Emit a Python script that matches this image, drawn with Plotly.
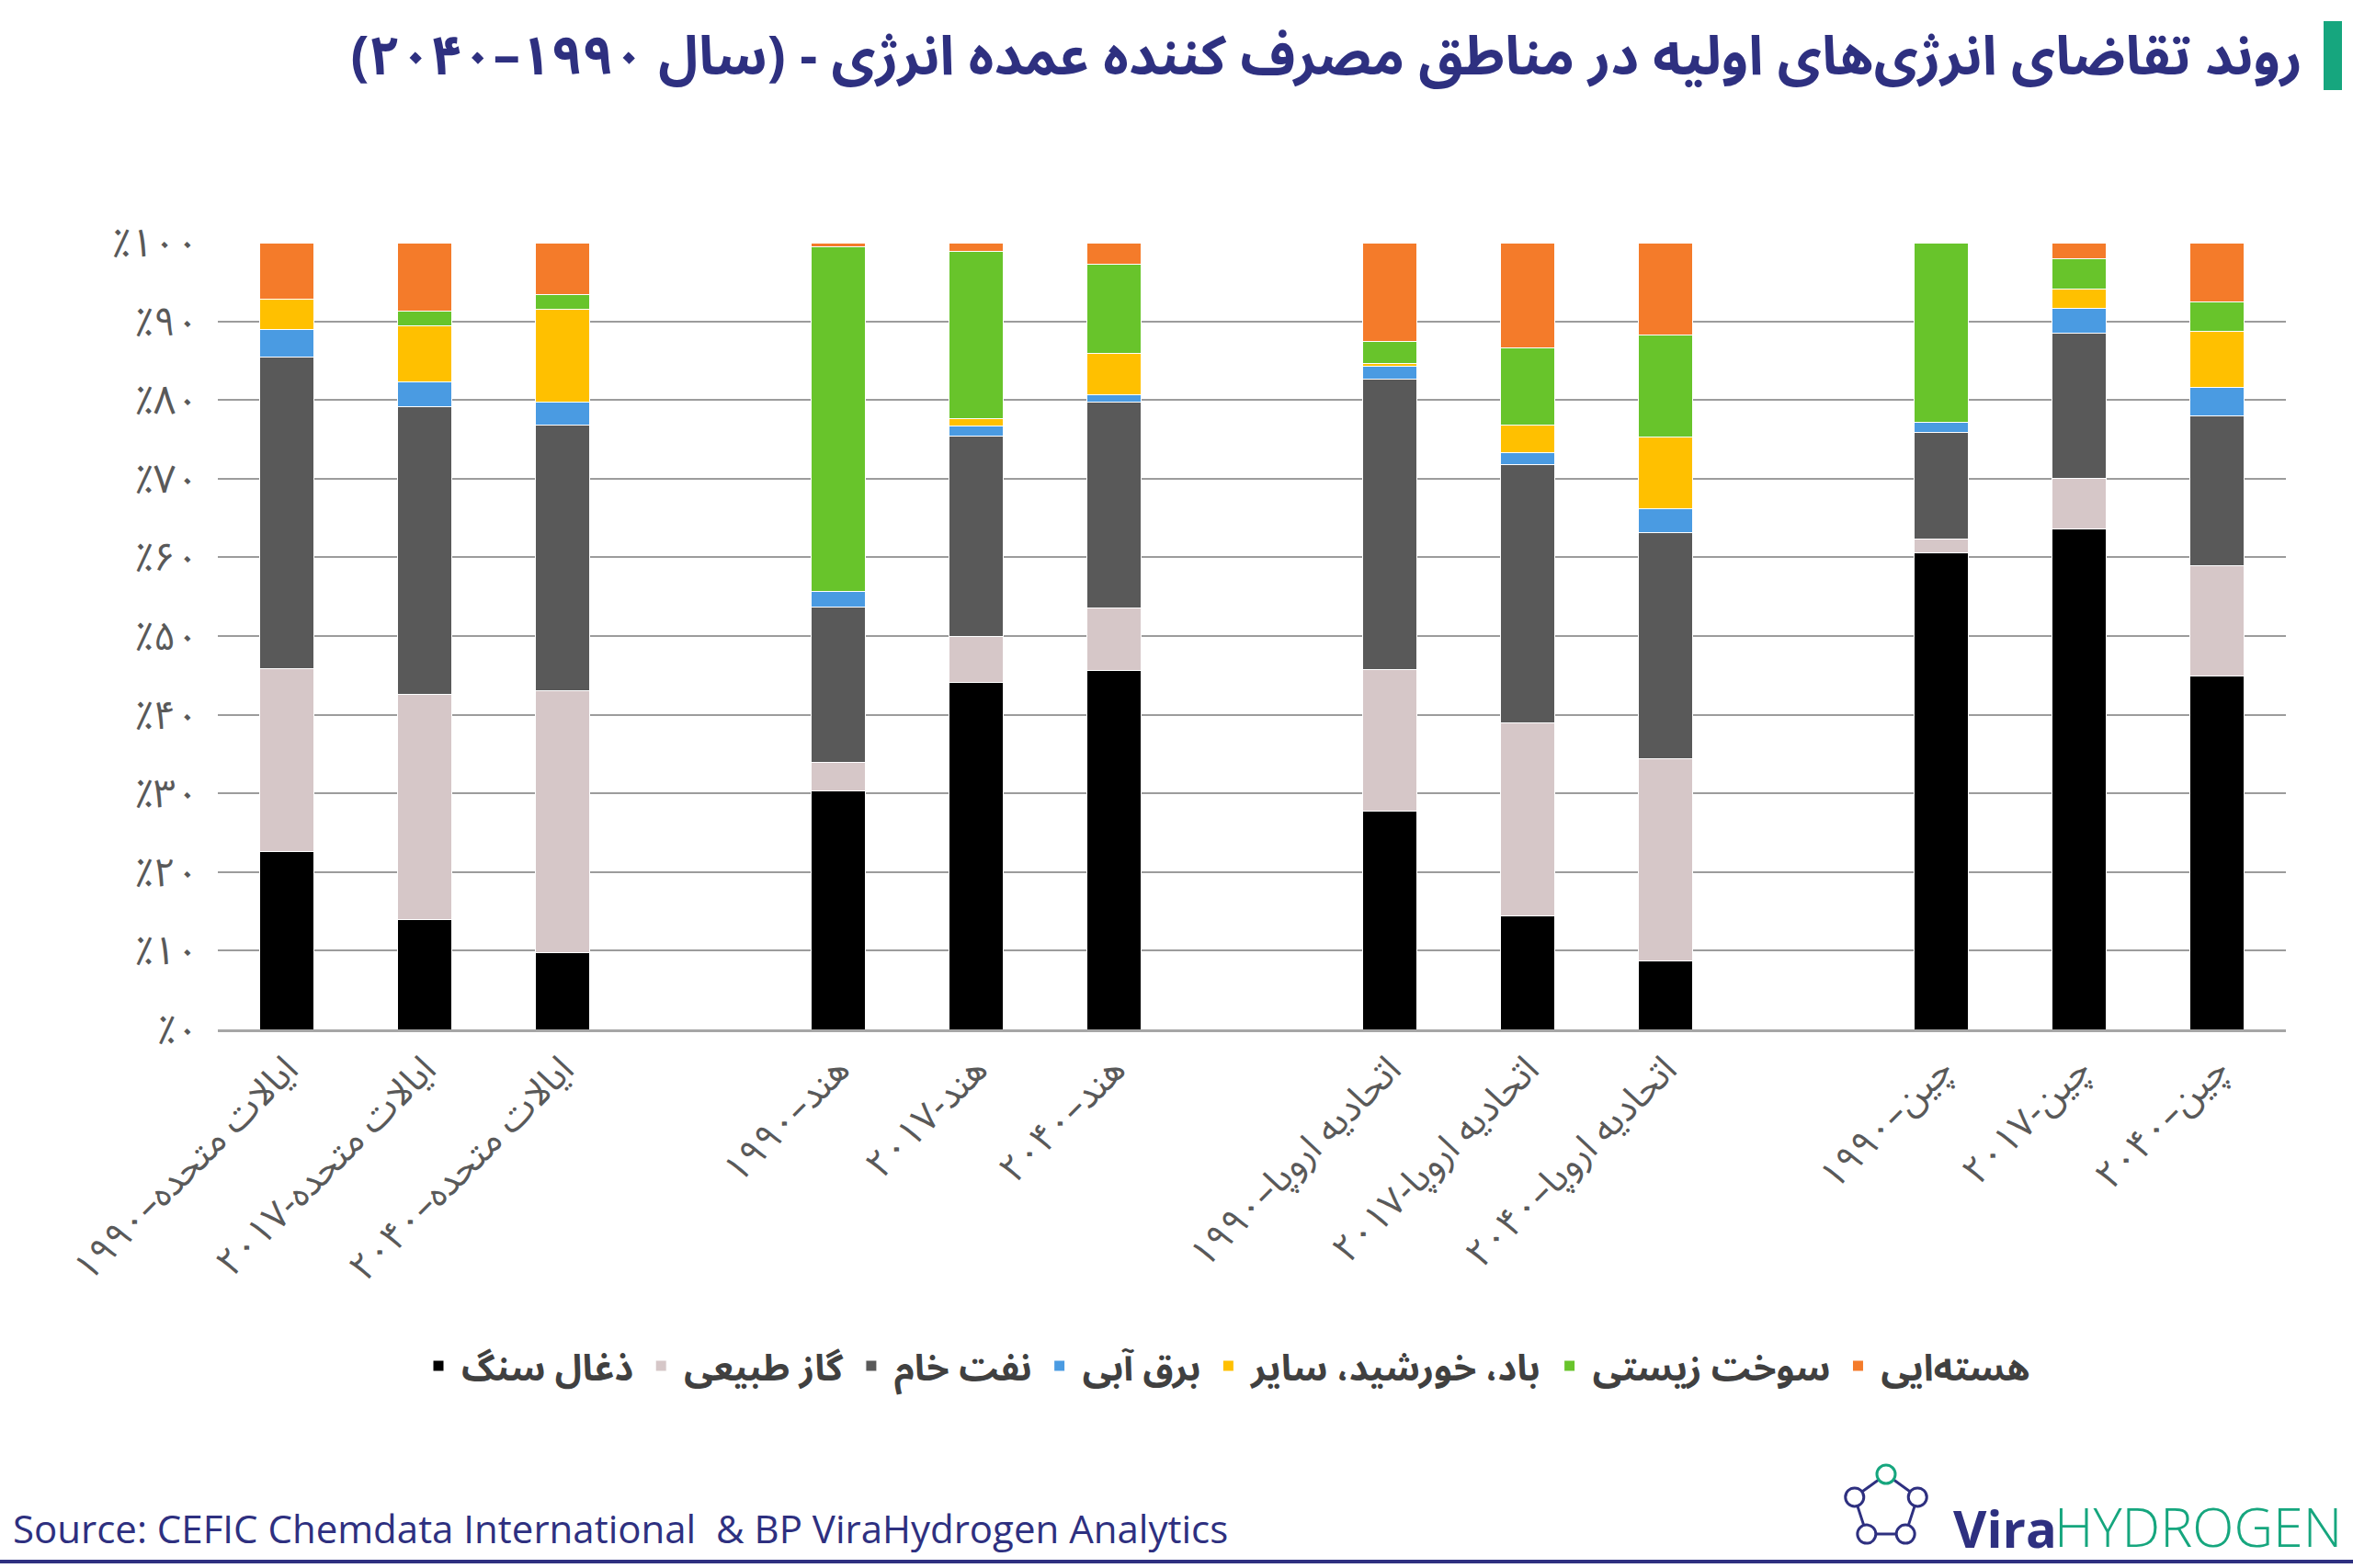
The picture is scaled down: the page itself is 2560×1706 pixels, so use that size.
import math
import plotly.graph_objects as go

# ---------------- data ----------------
labels = [
    "ایالات متحده–۱۹۹۰", "ایالات متحده-۲۰۱۷", "ایالات متحده–۲۰۴۰",
    "هند–۱۹۹۰", "هند-۲۰۱۷", "هند–۲۰۴۰",
    "اتحادیه اروپا–۱۹۹۰", "اتحادیه اروپا-۲۰۱۷", "اتحادیه اروپا–۲۰۴۰",
    "چین–۱۹۹۰", "چین-۲۰۱۷", "چین–۲۰۴۰",
]
coal    = [22.6, 14.0,  9.8, 30.3, 44.1, 45.6, 27.7, 14.4,  8.7, 60.6, 63.6, 44.9]
gas     = [23.3, 28.6, 33.2,  3.6,  5.9,  8.0, 18.0, 24.6, 25.7,  1.7,  6.4, 14.0]
oil     = [39.5, 36.6, 33.8, 19.8, 25.4, 26.1, 36.9, 32.8, 28.7, 13.6, 18.5, 19.1]
hydro   = [ 3.6,  3.1,  2.9,  2.0,  1.3,  1.0,  1.7,  1.5,  3.1,  1.3,  3.2,  3.6]
wind    = [ 3.8,  7.1, 11.8,  0.0,  0.9,  5.2,  0.3,  3.5,  9.1,  0.0,  2.4,  7.1]
bio     = [ 0.0,  1.9,  1.9, 43.8, 21.3, 11.3,  2.8,  9.8, 13.0, 22.8,  3.8,  3.8]
nuclear = [ 7.2,  8.7,  6.6,  0.5,  1.1,  2.8, 12.6, 13.4, 11.7,  0.0,  2.1,  7.5]

series_names = ["ذغال سنگ", "گاز طبیعی", "نفت خام", "برق آبی",
                "باد، خورشید، سایر", "سوخت زیستی", "هسته‌ایی"]
series_values = [coal, gas, oil, hydro, wind, bio, nuclear]
series_colors = ["#000000", "#D6C7C8", "#595959", "#4A9BE2",
                 "#FFC000", "#68C42B", "#F47B2A"]

ytick_vals = [0, 10, 20, 30, 40, 50, 60, 70, 80, 90, 100]
ytick_text = ["٪۰", "٪۱۰", "٪۲۰", "٪۳۰", "٪۴۰", "٪۵۰",
              "٪۶۰", "٪۷۰", "٪۸۰", "٪۹۰", "٪۱۰۰"]

title_text = "روند تقاضای انرژی‌های اولیه در مناطق مصرف کننده عمده انرژی - (سال ۱۹۹۰–۲۰۴۰)"
source_text = "Source: CEFIC Chemdata International  & BP ViraHydrogen Analytics"

# ---------------- layout geometry ----------------
W, H = 2560, 1706
L, R, T, B = 237, 2487, 264, 1120
FA = "Noto Sans Arabic, DejaVu Sans, sans-serif"
NAVY = "#2E3080"
TEAL = "#16A67E"


def px(x):
    return (x - L) / (R - L)


def py(y):
    return (B - y) / (B - T)


# each region group of 3 bars, with one empty slot between groups
positions = [4 * (i // 3) + i % 3 for i in range(len(labels))]

fig = go.Figure()
for name, vals, col in zip(series_names, series_values, series_colors):
    fig.add_trace(go.Bar(
        x=positions, y=vals, name=name, width=0.39,
        marker=dict(color=col, line=dict(color="white", width=1)),
    ))

fig.update_layout(
    width=W, height=H,
    margin=dict(l=L, r=W - R, t=T, b=H - B, pad=0),
    barmode="stack",
    plot_bgcolor="white", paper_bgcolor="white",
    font=dict(family=FA, color="#595959", size=30),
    title=dict(text=title_text, xref="container", yref="container",
               x=2505 / W, xanchor="right", y=1 - 60 / H, yanchor="middle",
               font=dict(family=FA, size=59, color=NAVY, weight="bold")),
    legend=dict(orientation="h", x=px(1333), xanchor="center",
                y=py(1486), yanchor="middle", traceorder="normal",
                font=dict(family=FA, size=40, color="#404040", weight="bold"),
                itemwidth=40, bgcolor="rgba(0,0,0,0)"),
    xaxis=dict(range=[-0.5, 14.5], tickmode="array", tickvals=positions,
               ticktext=labels, tickangle=-45, showgrid=False, zeroline=False,
               showline=True, linecolor="#A6A6A6", linewidth=3, ticks="",
               tickfont=dict(family=FA, size=41, color="#595959")),
    yaxis=dict(range=[0, 100], tickmode="array", tickvals=ytick_vals,
               ticktext=ytick_text, showgrid=True, gridcolor="#9C9C9C",
               gridwidth=2, zeroline=False, ticks="", ticklabelstandoff=20,
               tickfont=dict(family=FA, size=43, color="#595959")),
)

shapes = []
# green accent bar next to the title
shapes.append(dict(type="rect", xref="paper", yref="paper",
                   x0=px(2528), x1=px(2548), y0=py(98), y1=py(23),
                   fillcolor=TEAL, line=dict(width=0)))
# bottom rule
shapes.append(dict(type="line", xref="paper", yref="paper",
                   x0=px(0), x1=px(W), y0=py(1699), y1=py(1699),
                   line=dict(color=NAVY, width=4)))
# logo icon (molecule-like pentagon)
cx, cy, rr = 2052, 1640, 36
verts = []
for k in range(5):
    a = math.radians(-90 + 72 * k)
    verts.append((cx + rr * math.cos(a), cy + rr * math.sin(a)))
path = "M " + " L ".join(f"{px(vx)},{py(vy)}" for vx, vy in verts) + " Z"
shapes.append(dict(type="path", xref="paper", yref="paper", path=path,
                   line=dict(color=NAVY, width=3)))
for k, (vx, vy) in enumerate(verts):
    rc = 10
    shapes.append(dict(type="circle", xref="paper", yref="paper",
                       x0=px(vx - rc), x1=px(vx + rc), y0=py(vy + rc), y1=py(vy - rc),
                       fillcolor="white", line=dict(color=TEAL if k == 0 else NAVY, width=3)))
fig.update_layout(shapes=shapes)

fig.add_annotation(text=source_text, xref="paper", yref="paper",
                   x=px(12), y=py(1662), xanchor="left", yanchor="middle",
                   showarrow=False, font=dict(family="Open Sans", size=42, color=NAVY))
fig.add_annotation(text="<b>Vira</b>", xref="paper", yref="paper",
                   x=px(2240), y=py(1662), xanchor="right", yanchor="middle",
                   showarrow=False, font=dict(family="Open Sans", size=56, color=NAVY))
fig.add_annotation(text="HYDROGEN", xref="paper", yref="paper",
                   x=px(2550), y=py(1660), xanchor="right", yanchor="middle",
                   showarrow=False, font=dict(family="Open Sans", size=59, color=TEAL, weight=300))

fig.write_html("out.html", config={"displayModeBar": False},
               post_script="document.body.style.margin='0';document.body.style.overflow='hidden';")
